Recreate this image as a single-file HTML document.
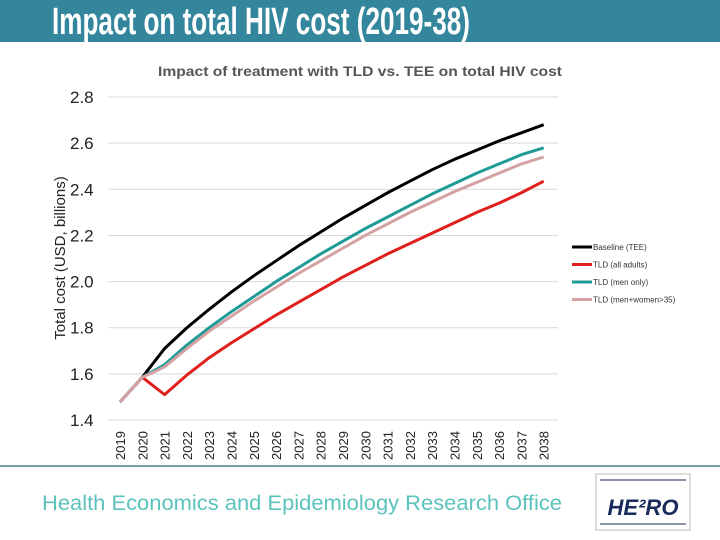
<!DOCTYPE html>
<html><head><meta charset="utf-8"><style>
html,body{margin:0;padding:0;background:#fff;}
svg{display:block;font-family:"Liberation Sans",sans-serif;}
</style></head><body>
<svg id="c" width="720" height="540" viewBox="0 0 720 540" xmlns="http://www.w3.org/2000/svg">
<rect x="0" y="0" width="720" height="42" fill="#33869c"/>
<text x="52" y="34" font-size="38" font-weight="bold" fill="#fff" textLength="418" lengthAdjust="spacingAndGlyphs">Impact on total HIV cost (2019-38)</text>
<text x="158" y="76" font-size="14" font-weight="bold" fill="#555" textLength="404" lengthAdjust="spacingAndGlyphs">Impact of treatment with TLD vs. TEE on total HIV cost</text>
<text transform="translate(65,258) rotate(-90)" text-anchor="middle" font-size="15" fill="#222">Total cost (USD, billions)</text>
<g id="grid"></g><g id="yt"></g><g id="xt"></g><g id="lines"></g><g id="legend"></g>
<line x1="0" y1="466" x2="720" y2="466" stroke="#4f7f8a" stroke-width="1.5"/>
<text x="42" y="510" font-size="21" fill="#5cc2bc" textLength="520" lengthAdjust="spacingAndGlyphs">Health Economics and Epidemiology Research Office</text>
<g>
<rect x="596" y="474" width="94" height="56" fill="#fff" stroke="#aaa" stroke-width="0.8"/>
<line x1="600" y1="480" x2="686" y2="480" stroke="#1a2a5a" stroke-width="1"/>
<text x="643" y="515" text-anchor="middle" font-size="22" font-weight="bold" font-style="italic" fill="#1a2a5a">HE²RO</text>
<line x1="600" y1="524" x2="686" y2="524" stroke="#1a2a5a" stroke-width="1"/>
</g>
</svg>
<script>
const years=["2019","2020","2021","2022","2023","2024","2025","2026","2027","2028","2029","2030","2031","2032","2033","2034","2035","2036","2037","2038"];
const yTicks=[1.4,1.6,1.8,2.0,2.2,2.4,2.6,2.8];
const baseline=[1.478,1.585,1.71,1.80,1.88,1.955,2.025,2.09,2.155,2.215,2.275,2.33,2.385,2.435,2.485,2.53,2.57,2.61,2.645,2.68];
const tldAll=[1.478,1.585,1.51,1.595,1.67,1.735,1.795,1.855,1.91,1.965,2.02,2.07,2.12,2.165,2.21,2.255,2.3,2.34,2.385,2.435];
const tldMen=[1.478,1.585,1.64,1.725,1.80,1.87,1.935,2.0,2.06,2.12,2.175,2.23,2.28,2.33,2.38,2.425,2.47,2.51,2.55,2.58];
const tldMenWomen=[1.478,1.585,1.63,1.71,1.785,1.85,1.915,1.975,2.035,2.09,2.145,2.2,2.25,2.3,2.345,2.39,2.43,2.47,2.51,2.54];
const names=["Baseline (TEE)","TLD (all adults)","TLD (men only)","TLD (men+women>35)"];
const colors=["#000","#e0201c","#1f9a96","#d4a2a3"];
const NS="http://www.w3.org/2000/svg";
const y=v=>420-(v-1.4)/0.2*46.14;
const x=i=>120+i*22.3;
function mk(t,a,p){const e=document.createElementNS(NS,t);for(const k in a)e.setAttribute(k,a[k]);p.appendChild(e);return e;}
const G=document.getElementById('grid'),YT=document.getElementById('yt'),XT=document.getElementById('xt'),L=document.getElementById('lines'),LG=document.getElementById('legend');
yTicks.forEach(v=>{
 const l=mk('line',{x1:108,x2:558,y1:y(v),y2:y(v),stroke:'#d9d9d9','stroke-width':1},G);
 
 
 const t=mk('text',{x:70,y:y(v)+6,'font-size':17,fill:'#222'},YT);t.textContent=v.toFixed(1);
 
 
});
years.forEach((yr,i)=>{
 const t=mk('text',{transform:`translate(${x(i)+5},460) rotate(-90)`,'font-size':13,fill:'#222'},XT);t.textContent=yr;
 
 
});
[baseline,tldAll,tldMen,tldMenWomen].forEach((s,k)=>{
 const p=mk('polyline',{points:s.map((v,i)=>x(i)+','+y(v)).join(' '),fill:'none',stroke:colors[k],'stroke-width':3,'stroke-linejoin':'round'},L);
 
 
});
names.forEach((n,k)=>{
 const g=mk('g',{},LG);
 
 
 const yy=247+k*17.5;
 mk('line',{x1:572,x2:592,y1:yy,y2:yy,stroke:colors[k],'stroke-width':3},g);
 const t=mk('text',{x:593,y:yy+3,'font-size':8,fill:'#333'},g);t.textContent=n;
});
</script>
</body></html>
